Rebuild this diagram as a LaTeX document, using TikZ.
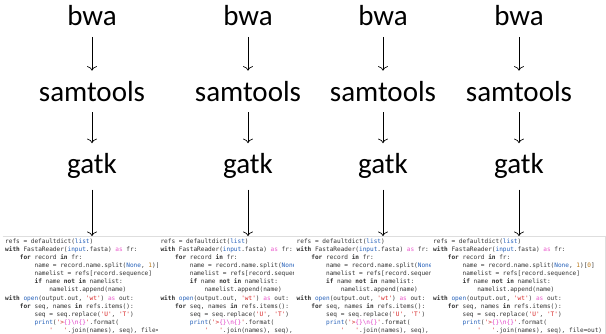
\documentclass[tikz,border=0pt]{standalone}
\usepackage{fontspec}
\usetikzlibrary{arrows.meta}
\newfontfamily\labfont{Carlito}
\newfontfamily\codefont{DejaVu Sans Mono}

% syntax colours for the listing
\definecolor{codetxt}{RGB}{50,50,50}
\definecolor{codebi}{RGB}{35,95,185}
\definecolor{codestr}{RGB}{215,35,35}
\definecolor{codeesc}{RGB}{225,60,200}
\definecolor{codeas}{RGB}{235,90,205}
\definecolor{codenum}{RGB}{185,120,25}

\newcommand\cind[1]{\hspace*{#1\fontcharwd\font`0}}
\newcommand\ckw[1]{\textbf{#1}}
\newcommand\cbi[1]{\textcolor{codebi}{#1}}
\newcommand\cstr[1]{\textcolor{codestr}{#1}}
\newcommand\cesc[1]{\textcolor{codeesc}{#1}}
\newcommand\cas[1]{\textcolor{codeas}{#1}}
\newcommand\cnum[1]{\textcolor{codenum}{#1}}

% the Snakemake-style rule body shown under each pipeline
\newcommand\rulecode{%
refs = defaultdict(\cbi{list})\\
\ckw{with} FastaReader(\cbi{input}.fasta) \cas{as} fr:\\
\cind{4}\ckw{for} record \ckw{in} fr:\\
\cind{8}name = record.name.split(\cbi{None}, \cnum{1})[\cnum{0}]\\
\cind{8}namelist = refs[record.sequence]\\
\cind{8}\ckw{if} name \ckw{not} \ckw{in} namelist:\\
\cind{12}namelist.append(name)\\
\ckw{with} \cbi{open}(output.out, \cstr{'wt'}) \cas{as} out:\\
\cind{4}\ckw{for} seq, names \ckw{in} refs.items():\\
\cind{8}seq = seq.replace(\cstr{'U'}, \cstr{'T'})\\
\cind{8}\cbi{print}(\cstr{'>}\cesc{\{\}\textbackslash n\{\}}\cstr{'}.format(\\
\cind{12}\cstr{'\cind{3}'}.join(names), seq), file=out)}

\tikzset{
  tool/.style={font=\labfont\fontsize{29}{34}\selectfont, inner xsep=0pt,
    inner ysep=10.5pt, anchor=base, text=black},
  flow/.style={-{Computer Modern Rightarrow[length=4.5pt,width=10pt]},
    line width=0.7pt},
  codeblock/.style={anchor=north west, fill=white,
    inner xsep=2.5pt, inner ysep=2.5pt, align=left,
    text=codetxt,
    font=\codefont\fontsize{6.1}{8.1}\selectfont\frenchspacing},
  codeedge/.style={draw=black!13, line width=0.5pt},
}

\begin{document}
\begin{tikzpicture}[x=1pt,y=-1pt]
\useasboundingbox (0,0) rectangle (606,334);
\fill[white] (0,0) rectangle (606,334);
\clip (0,0) rectangle (606,334);

% four identical pipelines: bwa -> samtools -> gatk -> rule code
\foreach \i/\x/\cx in {1/92/2.5, 2/248/157.8, 3/383/294, 4/519/430.5} {
  \node[tool] (b\i) at (\x,26) {bwa};
  \node[tool] (s\i) at (\x,101.5) {samtools};
  \node[tool] (g\i) at (\x,174) {gatk};
  \node[codeblock] (c\i) at (\cx,236) {\rulecode};
  \draw[codeedge] (c\i.north west) -- (c\i.north east);
  \draw[flow] (b\i.south) -- (s\i.north);
  \draw[flow] (s\i.south) -- (g\i.north);
  \draw[flow] (g\i.south) -- (g\i.south |- c\i.north);
}
% right edge of the last listing
\draw[codeedge] (c4.north east) -- (c4.south east);
\end{tikzpicture}
\end{document}
